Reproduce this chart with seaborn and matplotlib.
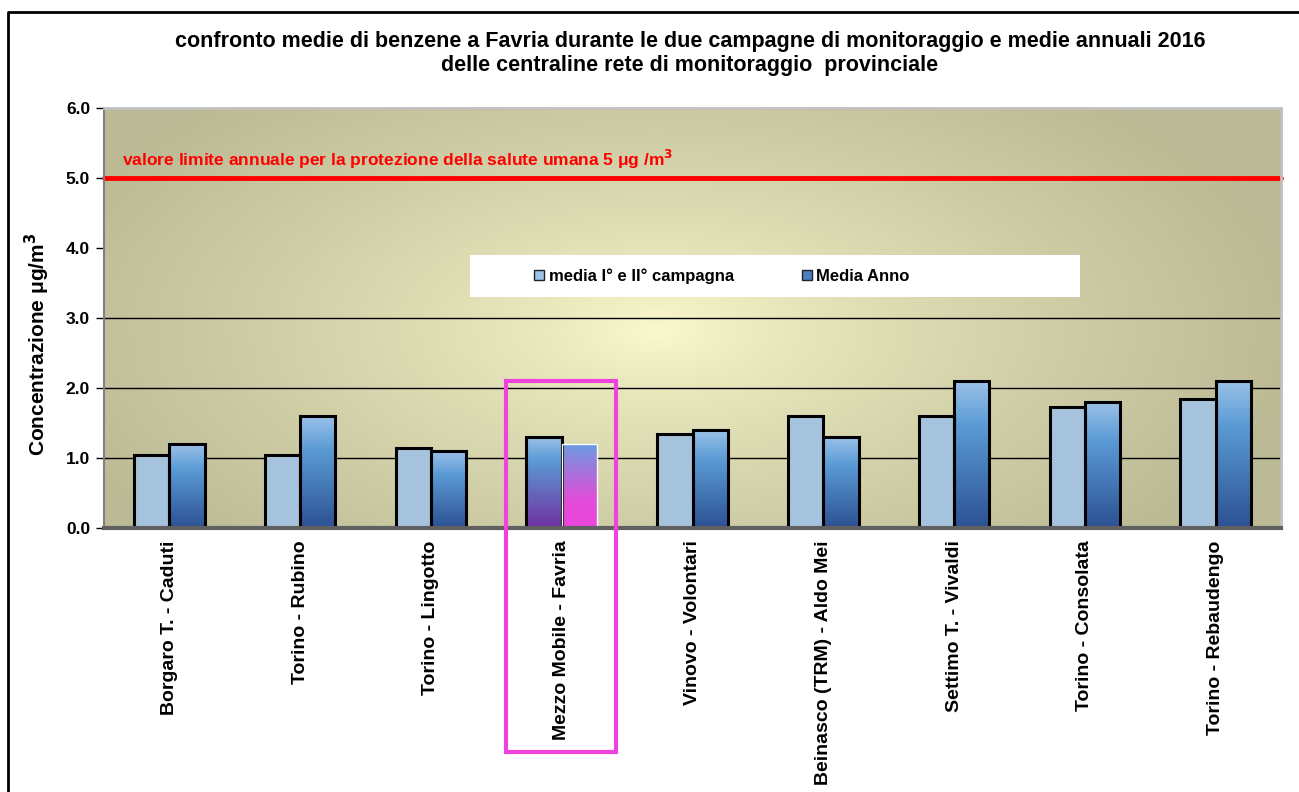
import numpy as np
import pandas as pd
import matplotlib
matplotlib.use("Agg")
import matplotlib.pyplot as plt
import seaborn as sns
from matplotlib.colors import LinearSegmentedColormap
from matplotlib.patches import Rectangle
from matplotlib.lines import Line2D

categories = ["Borgaro T. - Caduti", "Torino - Rubino", "Torino - Lingotto",
              "Mezzo Mobile - Favria", "Vinovo - Volontari", "Beinasco (TRM) - Aldo Mei",
              "Settimo T. - Vivaldi", "Torino - Consolata", "Torino - Rebaudengo"]
series_names = ["media I° e II° campagna", "Media Anno"]
media_campagne = [1.05, 1.05, 1.15, 1.30, 1.35, 1.60, 1.60, 1.73, 1.85]
media_anno = [1.20, 1.60, 1.10, 1.20, 1.40, 1.30, 2.10, 1.80, 2.10]
limit_value = 5.0
highlight = "Mezzo Mobile - Favria"
ytick_vals = [0.0, 1.0, 2.0, 3.0, 4.0, 5.0, 6.0]
grid_vals = [1.0, 2.0, 3.0]

df = pd.DataFrame({
    "categoria": categories * 2,
    "serie": [series_names[0]] * len(categories) + [series_names[1]] * len(categories),
    "valore": media_campagne + media_anno,
})

sns.set_style("white")
plt.rcParams["font.family"] = ["Liberation Sans", "DejaVu Sans"]
plt.rcParams["text.color"] = "black"
plt.rcParams["axes.labelcolor"] = "black"
plt.rcParams["xtick.color"] = "black"
plt.rcParams["ytick.color"] = "black"

W, H = 1299, 792
fig = plt.figure(figsize=(W / 100, H / 100), dpi=100)
ax = fig.add_axes([104 / W, 1 - 528 / H, (1281 - 104) / W, (528 - 108) / H])

# background radial gradient
ny, nx = 300, 600
yy, xx = np.mgrid[0:1:ny * 1j, 0:1:nx * 1j]
cx, cy = 0.47, 0.47
d = np.sqrt(((xx - cx) / 0.55) ** 2 + ((yy - cy) / 0.75) ** 2)
t = np.clip(d, 0, 1) ** 0.75
center = np.array([252, 250, 205]) / 255
edge = np.array([187, 186, 149]) / 255
img = center[None, None, :] * (1 - t[..., None]) + edge[None, None, :] * t[..., None]
ax.imshow(img, extent=[0, 1, 0, 1], transform=ax.transAxes, origin="lower",
          aspect="auto", zorder=0, interpolation="bilinear")

sns.barplot(data=df, x="categoria", y="valore", hue="serie", order=categories,
            hue_order=series_names, width=0.54, palette=["#9dc3e6", "#4a7fc0"],
            edgecolor="black", linewidth=2.2, ax=ax, zorder=3, legend=False)

dark_cmap = LinearSegmentedColormap.from_list("dk", [(0, "#2c5193"), (0.7, "#5b9bd5"), (1, "#9ac1e8")])
hl1_cmap = LinearSegmentedColormap.from_list("h1", [(0, "#7030a0"), (0.75, "#5b9bd5"), (1, "#9ac1e8")])
hl2_cmap = LinearSegmentedColormap.from_list("h2", [(0, "#ee44dd"), (0.35, "#e04ed8"), (1, "#6a9be0")])
grad = np.linspace(0, 1, 256).reshape(-1, 1)
hi = categories.index(highlight)

for si, cont in enumerate(ax.containers):
    for ci, bar in enumerate(cont.patches):
        x0, y0 = bar.get_x(), bar.get_y()
        w, h = bar.get_width(), bar.get_height()
        cmap = None
        if ci == hi:
            cmap = hl1_cmap if si == 0 else hl2_cmap
        elif si == 1:
            cmap = dark_cmap
        if cmap is not None:
            ax.imshow(grad, extent=[x0, x0 + w, y0, y0 + h], origin="lower",
                      aspect="auto", cmap=cmap, zorder=2.5, interpolation="bilinear")
            bar.set_facecolor("none")
        if ci == hi and si == 1:
            bar.set_edgecolor("white")
            bar.set_linewidth(1)

ax.set_xlim(-0.5, len(categories) - 0.5)
ax.set_ylim(0, 6)
ax.set_autoscale_on(False)

for g in grid_vals:
    ax.axhline(g, color="black", lw=1, zorder=1)
ax.axhline(limit_value, color="#ff0000", lw=3.5, zorder=4, clip_on=False)
ax.text((122 - 104) / 1177, (528 - 166) / 420,
        "valore limite annuale per la protezione della salute umana 5 μg /m$^{\\mathbf{3}}$",
        transform=ax.transAxes,
        color="#ff0000", fontsize=12.5, fontweight="bold", ha="left", va="baseline", zorder=5)

ax.set_yticks(ytick_vals)
ax.set_yticklabels([f"{v:.1f}" for v in ytick_vals], fontsize=12.5, fontweight="bold")
ax.set_xticks(range(len(categories)))
ax.set_xticklabels(categories, rotation=90, fontsize=14, fontweight="bold")
ax.set_xticks(np.arange(-0.5, len(categories), 1), minor=True)
ax.tick_params(axis="x", which="major", length=0, pad=9)
ax.tick_params(axis="x", which="minor", length=6, width=1.5, color="black", direction="out")
ax.tick_params(axis="y", length=6, width=1, color="black", direction="out", left=True, pad=4)
ax.set_xlabel("")
ax.set_ylabel("Concentrazione μg/m$^{\\mathbf{3}}$", fontsize=15, fontweight="bold")
ax.yaxis.set_label_coords((52 - 104) / 1177, (528 - 344) / 420)

for s in ["top", "right"]:
    ax.spines[s].set_color("#c0c0c0")
    ax.spines[s].set_linewidth(2)
ax.spines["left"].set_color("#808080")
ax.spines["left"].set_linewidth(1.5)
ax.spines["bottom"].set_color("#606060")
ax.spines["bottom"].set_linewidth(3)
for s in ax.spines.values():
    s.set_zorder(6)

# legend box
ax.add_patch(Rectangle(((470 - 104) / 1177, (528 - 297) / 420), 610 / 1177, 42 / 420,
                       transform=ax.transAxes, fc="white", ec="none", zorder=6.5))
leg = ax.legend(handles=[Rectangle((0, 0), 1, 1, fc="#9dc3e6", ec="#222222", lw=1),
                         Rectangle((0, 0), 1, 1, fc="#4a7fc0", ec="#222222", lw=1)],
                labels=series_names, ncol=2, loc="center",
                bbox_to_anchor=((722 - 104) / 1177, (528 - 276) / 420),
                frameon=False, prop={"weight": "bold", "size": 12},
                handlelength=0.6, handleheight=0.6,
                handletextpad=0.25, columnspacing=4.1, borderpad=0.2)
leg.set_zorder(7)

# highlight rectangle
ax.add_patch(Rectangle((hi - 0.424, -3.2), 0.84, 5.3, fill=False, ec="#ee44dd",
                       lw=3, clip_on=False, zorder=8))

fig.text(0.531, 1 - 41 / H,
         "confronto medie di benzene a Favria durante le due campagne di monitoraggio e medie annuali 2016",
         ha="center", va="center", fontsize=15.5, fontweight="bold", color="black")
fig.text(0.531, 1 - 66 / H, "delle centraline rete di monitoraggio  provinciale",
         ha="center", va="center", fontsize=15.5, fontweight="bold", color="black")

# outer frame (left and top)
fig.add_artist(Line2D([8 / W, 8 / W, 1.0], [0, 1 - 12 / H, 1 - 12 / H],
                      transform=fig.transFigure, color="black", lw=2))

fig.savefig("out.png", dpi=100)
